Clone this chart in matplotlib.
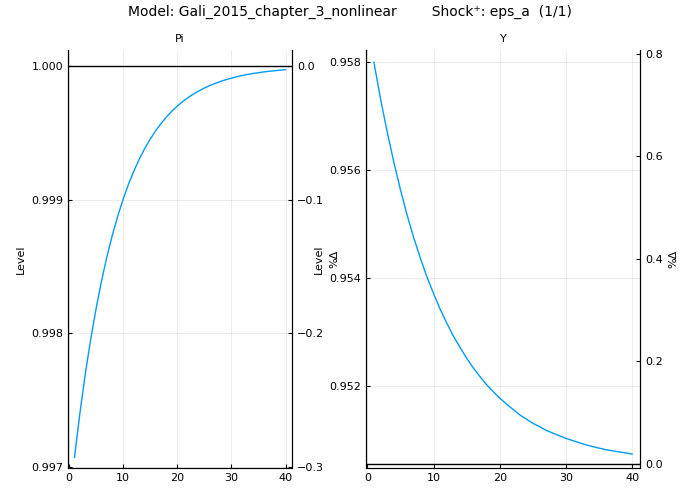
import matplotlib

matplotlib.use("Agg")
import matplotlib.pyplot as plt
import numpy as np

periodos = np.arange(1, 41)

# niveles
pi_nivel = [0.997070, 0.997401, 0.997695, 0.997955, 0.998186, 0.998391, 0.998573, 0.998734,
            0.998877, 0.999004, 0.999117, 0.999216, 0.999305, 0.999384, 0.999453, 0.999515,
            0.999570, 0.999619, 0.999662, 0.999700, 0.999734, 0.999764, 0.999791, 0.999814,
            0.999835, 0.999854, 0.999870, 0.999885, 0.999898, 0.999909, 0.999920, 0.999929,
            0.999937, 0.999944, 0.999950, 0.999956, 0.999961, 0.999965, 0.999969, 0.999973]
pi_ss = 1.0

y_nivel = [0.95800, 0.95732, 0.95671, 0.95615, 0.95564, 0.95517, 0.95475, 0.95437,
           0.95402, 0.95371, 0.95342, 0.95316, 0.95292, 0.95271, 0.95251, 0.95233,
           0.95217, 0.95202, 0.95189, 0.95177, 0.95166, 0.95156, 0.95146, 0.95138,
           0.95130, 0.95124, 0.95117, 0.95112, 0.95107, 0.95102, 0.95098, 0.95094,
           0.95090, 0.95087, 0.95084, 0.95081, 0.95079, 0.95077, 0.95075, 0.95073]
y_ss = 0.95055

AZUL = "#009AFA"


def panel(ax, nivel, ss, titulo, ylim, yticks, pticks):
    ax.plot(periodos, nivel, color=AZUL, lw=1)
    ax.axhline(ss, color="black", lw=1)
    ax.set_ylim(*ylim)
    ax.set_xlim(-0.2, 41.2)
    ax.set_xticks([0, 10, 20, 30, 40])
    ax.set_yticks(yticks)
    ax.set_ylabel("Level", fontsize=8)
    ax.set_title(titulo, fontsize=8)
    ax.grid(alpha=0.1, color="black", lw=0.5)
    ax.spines["top"].set_visible(False)
    ax.tick_params(labelsize=8, direction="in", length=3)
    ax2 = ax.twinx()
    ax2.set_ylim((ylim[0] - ss) / ss * 100, (ylim[1] - ss) / ss * 100)
    ax2.set_yticks(pticks)
    ax2.set_ylabel("%Δ", fontsize=8)
    ax2.spines["top"].set_visible(False)
    ax2.tick_params(labelsize=8, direction="in", length=3)


fig = plt.figure(figsize=(7, 5), dpi=100)
ax1 = fig.add_axes([68 / 700, 0.064, 224 / 700, 0.836])
ax3 = fig.add_axes([366 / 700, 0.064, 274 / 700, 0.836])
panel(ax1, pi_nivel, pi_ss, "Pi", (0.99699, 1.00012),
      [0.997, 0.998, 0.999, 1.000], [-0.3, -0.2, -0.1, 0.0])
ax1.set_yticklabels(["0.997", "0.998", "0.999", "1.000"])
panel(ax3, y_nivel, y_ss, "Y", (0.95047, 0.95823),
      [0.952, 0.954, 0.956, 0.958], [0.0, 0.2, 0.4, 0.6, 0.8])
fig.suptitle("Model: Gali_2015_chapter_3_nonlinear        Shock⁺: eps_a  (1/1)",
             fontsize=10, y=0.99)
fig.savefig("out.png")
